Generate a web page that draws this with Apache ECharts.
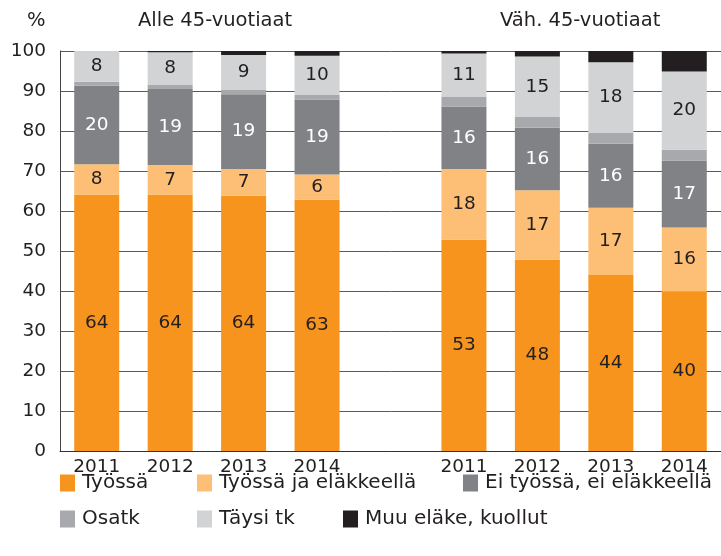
<!DOCTYPE html>
<html>
<head>
<meta charset="utf-8">
<script src="https://cdn.jsdelivr.net/npm/echarts@6/dist/echarts.min.js"></script>
<style>
    html, body { margin: 0; padding: 0; background: #fff; }
    #chart { width: 721px; height: 556px; }
</style>
</head>
<body>
<div id="chart"></div>
<script>
    // vuodet, tyhjä väli ryhmien välissä
    const categories = ['2011', '2012', '2013', '2014', '', '2011', '2012', '2013', '2014'];
    const groupTitles = ['Alle 45-vuotiaat', 'Väh. 45-vuotiaat'];

    // osuudet %, luettu kuvasta
    const tyossa = [64.1, 64.1, 63.8, 62.8, '-', 52.8, 47.8, 44.0, 39.8];
    const tyossaJaElakkeella = [7.6, 7.4, 6.7, 6.3, '-', 17.7, 17.4, 16.8, 16.1];
    const eiTyossa = [19.6, 19.0, 18.7, 18.8, '-', 15.6, 15.6, 16.0, 16.7];
    const osatk = [1.0, 1.1, 1.2, 1.1, '-', 2.5, 2.7, 2.7, 2.7];
    const taysiTk = [7.7, 8.1, 8.6, 9.8, '-', 10.8, 15.1, 17.7, 19.6];
    const muuElake = [0, 0.3, 1.0, 1.2, '-', 0.6, 1.4, 2.8, 5.1];

    const yTicks = [0, 10, 20, 30, 40, 50, 60, 70, 80, 90, 100];

    const font = 'DejaVu Sans';
    const textColor = '#231f20';
    const fs = 18.5;

    let dom = document.getElementById('chart');
    let myChart = echarts.init(dom, null, {renderer: 'canvas'});

    function label(color, show) {
        return {
            show: show,
            position: 'inside',
            color: color,
            fontFamily: font,
            fontSize: fs,
            formatter: p => Math.round(p.value)
        };
    }

    function bar(name, data, color, lbl) {
        return {
            name: name,
            type: 'bar',
            stack: 'total',
            barWidth: 45,
            data: data,
            itemStyle: {color: color},
            label: lbl,
            emphasis: {disabled: true},
            silent: true
        };
    }

    function legendItem(name, left, top) {
        return {
            data: [name],
            left: left,
            top: top,
            padding: 0,
            icon: 'rect',
            itemWidth: 15,
            itemHeight: 17,
            selectedMode: false,
            textStyle: {fontFamily: font, fontSize: 20, color: textColor, padding: [0, 0, 0, 2]}
        };
    }

    let option = {
        animation: false,
        grid: {
            left: 60,
            top: 51,
            width: 669,
            height: 400
        },
        title: [
            {text: '%', left: 27, top: 11, padding: 0},
            {text: groupTitles[0], left: 138, top: 11, padding: 0},
            {text: groupTitles[1], left: 500, top: 11, padding: 0}
        ].map(t => Object.assign(t, {
            textStyle: {fontFamily: font, fontSize: 19.5, fontWeight: 'normal', color: textColor}
        })),
        legend: [
            legendItem('Työssä', 60, 473),
            legendItem('Työssä ja eläkkeellä', 197, 473),
            legendItem('Ei työssä, ei eläkkeellä', 463, 473),
            legendItem('Osatk', 60, 509),
            legendItem('Täysi tk', 197, 509),
            legendItem('Muu eläke, kuollut', 343, 509)
        ],
        xAxis: {
            type: 'category',
            data: categories,
            axisTick: {show: false},
            axisLine: {lineStyle: {color: '#333', width: 1}},
            axisLabel: {
                interval: 0,
                margin: 7,
                fontFamily: font,
                fontSize: fs,
                color: textColor
            }
        },
        yAxis: {
            type: 'value',
            min: yTicks[0],
            max: yTicks[yTicks.length - 1],
            interval: 10,
            axisLine: {show: true, lineStyle: {color: '#444', width: 1}},
            axisTick: {show: false},
            splitLine: {lineStyle: {color: '#5a5a5a', width: 1}},
            axisLabel: {
                margin: 14,
                fontFamily: font,
                fontSize: fs,
                color: textColor
            }
        },
        series: [
            bar('Työssä', tyossa, '#f7941d', label(textColor, true)),
            bar('Työssä ja eläkkeellä', tyossaJaElakkeella, '#fdbf76', label(textColor, true)),
            bar('Ei työssä, ei eläkkeellä', eiTyossa, '#808285', label('#ffffff', true)),
            bar('Osatk', osatk, '#a7a9ac', label(textColor, false)),
            bar('Täysi tk', taysiTk, '#d1d3d4', label(textColor, true)),
            bar('Muu eläke, kuollut', muuElake, '#231f20', label(textColor, false))
        ]
    };

    if (option && typeof option === 'object') {
        myChart.setOption(option, true);
    }
</script>
</body>
</html>
